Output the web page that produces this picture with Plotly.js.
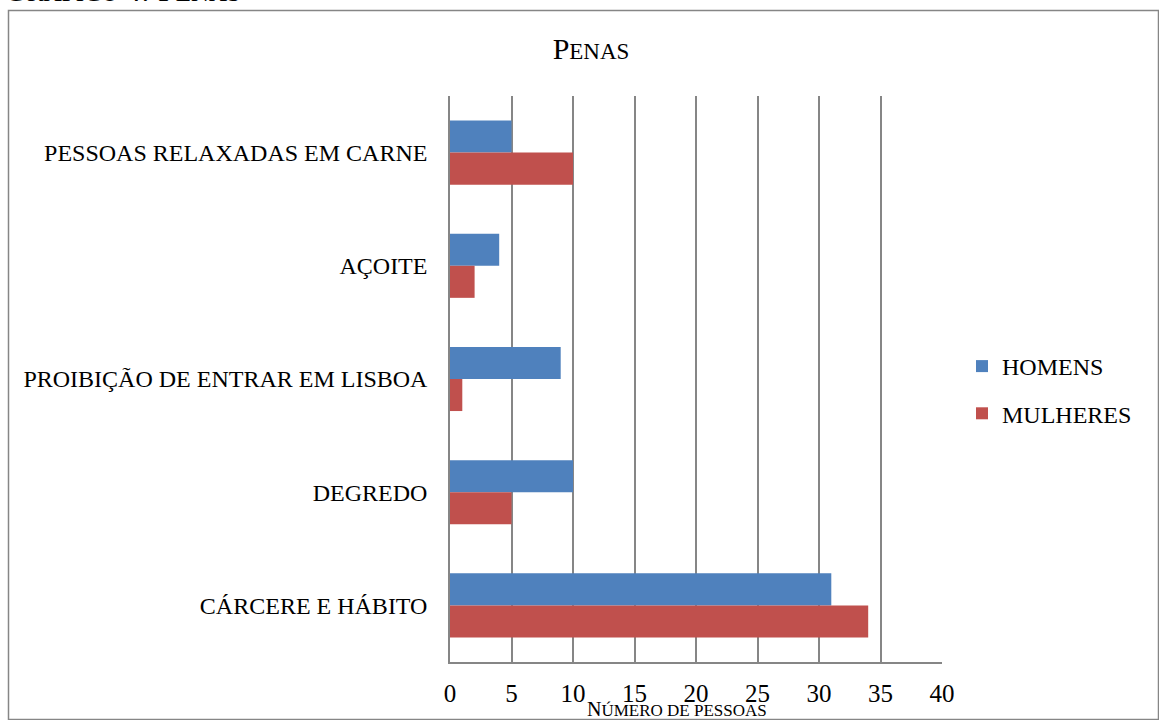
<!DOCTYPE html>
<html>
<head>
<meta charset="utf-8">
<script src="https://cdn.plot.ly/plotly-3.0.1.min.js"></script>
<style>html,body{margin:0;padding:0;background:#fff;}#chart{width:1159px;height:720px;}</style>
</head>
<body>
<div id="chart"></div>
<script>
const categories = ["PESSOAS RELAXADAS EM CARNE", "AÇOITE", "PROIBIÇÃO DE ENTRAR EM LISBOA", "DEGREDO", "CÁRCERE E HÁBITO"];
const homens = [5, 4, 9, 10, 31];
const mulheres = [10, 2, 1, 5, 34];
const xTicks = [0, 5, 10, 15, 20, 25, 30, 35, 40];

const serif = "Liberation Serif, Times New Roman, serif";
const W = 1159, H = 720;
const L = 450, R = 942, T = 96, B = 662;
const px = v => (v - L) / (R - L);
const py = v => (B - v) / (B - T);
const sc = (big, rest, rs) => big + '<span style="font-size:' + rs + 'px">' + rest + '</span>';

const traces = [
  {type: "bar", orientation: "h", name: "HOMENS", y: categories, x: homens,
   marker: {color: "#4F81BD"}, legendgroup: "a", hoverinfo: "x+name"},
  {type: "bar", orientation: "h", name: "MULHERES", y: categories, x: mulheres,
   marker: {color: "#C0504D"}, legendgroup: "b", hoverinfo: "x+name"}
];

const layout = {
  width: W, height: H,
  margin: {l: L, r: W - R, t: T, b: H - B, pad: 0},
  paper_bgcolor: "#fff", plot_bgcolor: "#fff",
  font: {family: serif, color: "#000"},
  barmode: "group", bargap: 0.434, bargroupgap: 0,
  title: {text: sc("P", "ENAS", 23), font: {family: serif, size: 30, color: "#000"},
          x: 591 / W, xanchor: "center", xref: "container", y: 1 - 48 / H, yanchor: "middle", yref: "container"},
  xaxis: {range: [0, 40], tickvals: xTicks, ticktext: xTicks.map(String),
          showgrid: true, gridcolor: "#868686", gridwidth: 1.5,
          showline: true, linecolor: "#868686", linewidth: 1.5,
          zeroline: false, ticks: "", tickfont: {family: serif, size: 25, color: "#000"},
          ticklabelstandoff: 8, fixedrange: true},
  yaxis: {categoryorder: "array", categoryarray: categories, autorange: "reversed",
          showgrid: false, showline: true, linecolor: "#868686", linewidth: 1.5,
          ticks: "", tickfont: {family: serif, size: 24, color: "#000"},
          ticklabelstandoff: 16, fixedrange: true},
  showlegend: true,
  legend: {x: px(962), xanchor: "left", y: py(390), yanchor: "middle",
           traceorder: "grouped", tracegroupgap: 13,
           font: {family: serif, size: 24, color: "#000"}, bgcolor: "rgba(0,0,0,0)"},
  shapes: [
    {type: "rect", xref: "paper", yref: "paper", layer: "below",
     x0: px(8.5), x1: px(1158.5), y0: py(719.5), y1: py(10.5),
     line: {color: "#868686", width: 1.5}, fillcolor: "rgba(0,0,0,0)"}
  ],
  annotations: [
    {text: sc("N", "ÚMERO DE PESSOAS", 17), xref: "paper", yref: "paper", x: px(677), y: py(709),
     xanchor: "center", yanchor: "middle", showarrow: false,
     font: {family: serif, size: 20, color: "#000"}},
    {text: sc("G", "RÁFICO ", 25) + "4: " + sc("P", "ENAS", 25), xref: "paper", yref: "paper", x: px(2), y: py(-10),
     xanchor: "left", yanchor: "middle", showarrow: false,
     font: {family: serif, size: 32, color: "#000"}}
  ]
};

Plotly.newPlot("chart", traces, layout, {displayModeBar: false});
</script>
</body>
</html>
